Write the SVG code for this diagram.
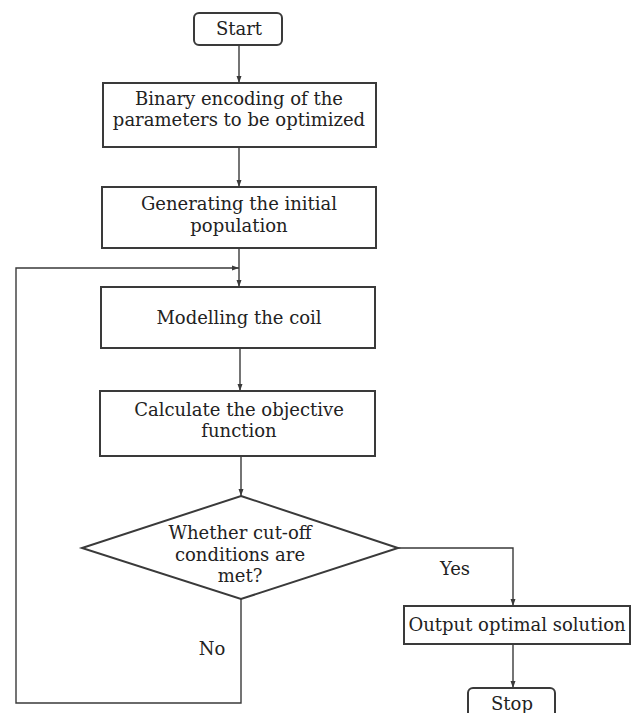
<svg xmlns="http://www.w3.org/2000/svg" width="637" height="713" viewBox="0 0 637 713">
<style>
.box{fill:#fff;stroke:#3a3a3a;stroke-width:2}
.ln{fill:none;stroke:#3a3a3a;stroke-width:1.4}
.t{font-family:'DejaVu Serif',serif;font-size:18px;fill:#222;text-anchor:middle}
</style>
<defs>
<marker id="ah" markerWidth="8" markerHeight="6" refX="7" refY="3" orient="auto" markerUnits="userSpaceOnUse">
<path d="M0,0.5 L7,3 L0,5.5 Z" fill="#3a3a3a"/>
</marker>
</defs>
<rect width="637" height="713" fill="#fff"/>
<g id="connectors">
<line class="ln" x1="239" y1="45" x2="239" y2="83" marker-end="url(#ah)"/>
<line class="ln" x1="239" y1="147" x2="239" y2="187" marker-end="url(#ah)"/>
<line class="ln" x1="239" y1="248" x2="239" y2="287" marker-end="url(#ah)"/>
<line class="ln" x1="240" y1="348" x2="240" y2="391" marker-end="url(#ah)"/>
<line class="ln" x1="241" y1="456" x2="241" y2="496" marker-end="url(#ah)"/>
<polyline class="ln" points="398,548 513,548 513,606" marker-end="url(#ah)"/>
<line class="ln" x1="513" y1="644" x2="513" y2="688" marker-end="url(#ah)"/>
<polyline class="ln" points="241,599 241,703 16,703 16,268 239,268" marker-end="url(#ah)"/>
<text class="t" x="455" y="575">Yes</text>
<text class="t" x="212" y="655">No</text>
</g>
<g id="start">
<rect class="box" x="194" y="13" width="88" height="32" rx="5"/>
<text class="t" x="239" y="35">Start</text>
</g>
<g id="encode">
<rect class="box" x="103" y="83" width="273" height="64"/>
<text class="t" x="239" y="105">Binary encoding of the</text>
<text class="t" x="239" y="126">parameters to be optimized</text>
</g>
<g id="init">
<rect class="box" x="102" y="187" width="274" height="61"/>
<text class="t" x="239" y="210">Generating the initial</text>
<text class="t" x="239" y="232">population</text>
</g>
<g id="model">
<rect class="box" x="101" y="287" width="274" height="61"/>
<text class="t" x="239" y="324">Modelling the coil</text>
</g>
<g id="objective">
<rect class="box" x="100" y="391" width="275" height="65"/>
<text class="t" x="239" y="416">Calculate the objective</text>
<text class="t" x="239" y="437">function</text>
</g>
<g id="decision">
<polygon class="box" points="241,496 398,548 241,599 82,548"/>
<text class="t" x="240" y="539">Whether cut-off</text>
<text class="t" x="240" y="561">conditions are</text>
<text class="t" x="240" y="582">met?</text>
</g>
<g id="output">
<rect class="box" x="404" y="606" width="226" height="38"/>
<text class="t" x="517" y="631">Output optimal solution</text>
</g>
<g id="stop">
<rect class="box" x="468" y="688" width="87" height="34" rx="5"/>
<text class="t" x="512" y="710">Stop</text>
</g>
</svg>
